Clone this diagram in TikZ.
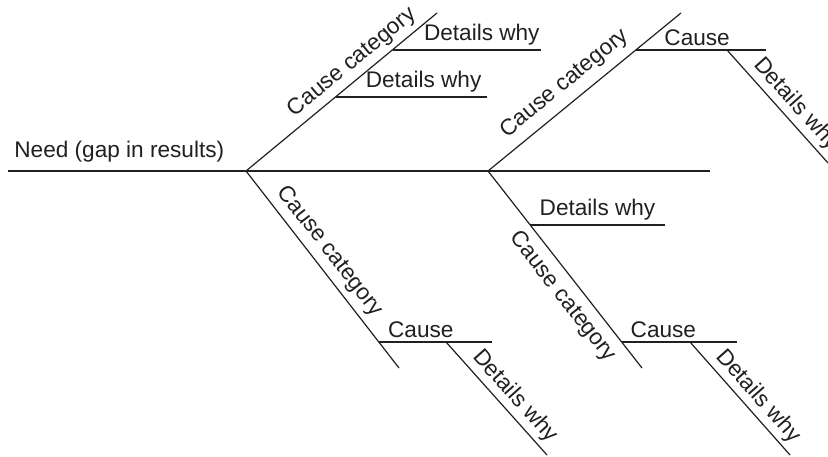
\documentclass[tikz,border=0pt]{standalone}
\usepackage{fontspec}
\setmainfont{Liberation Sans}
\usepackage{xcolor}
\definecolor{ink}{HTML}{231F20}
\tikzstyle{bone}=[line width=.6pt,draw=ink]
\tikzstyle{lbl}=[font=\fontsize{11.3}{13}\selectfont,text=ink,inner sep=2pt]
\tikzstyle{up}=[lbl,sloped,above]
\tikzstyle{dn}=[lbl,sloped,below]

\begin{document}
\begin{tikzpicture}[x=.5pt,y=-.5pt]
	\useasboundingbox (0,0) rectangle (828,456);
	\clip (0,0) rectangle (828,456);
	% spine
	\coordinate (tail) at (8,171);
	\coordinate (head) at (710,171);
	\coordinate (j1) at (246,171);
	\coordinate (j2) at (488,171);
	\draw[bone] (tail) -- (head);
	\node[lbl,anchor=base west] (need) at (10,157) {Need (gap in results)};
	% cause categories
	\coordinate (u1) at (437,13);
	\coordinate (d1) at (399,368);
	\coordinate (u2) at (681,13);
	\coordinate (d2) at (642,368);
	\draw[bone] (j1) -- node[up,pos=.61,inner sep=2.5pt] (cat1) {Cause category} (u1);
	\draw[bone] (j1) -- node[up,pos=.46,inner sep=3pt] (cat2) {Cause category} (d1);
	\draw[bone] (j2) -- node[up,pos=.46,inner sep=4pt] (cat3) {Cause category} (u2);
	\draw[bone] (j2) -- node[dn,pos=.58,inner sep=4pt] (cat4) {Cause category} (d2);
	% causes and details
	\coordinate (a1) at (393,50);  \coordinate (a1e) at (541,50);
	\coordinate (a2) at (336,97);  \coordinate (a2e) at (487,97);
	\draw[bone] (a1) -- node[up,pos=.6]  (why1) {Details why} (a1e);
	\draw[bone] (a2) -- node[up,pos=.58] (why2) {Details why} (a2e);
	\coordinate (b1) at (636,50);  \coordinate (b1e) at (766,50);
	\coordinate (b2) at (727,50);  \coordinate (b2e) at (828,163);
	\draw[bone] (b1) -- node[up,pos=.47] (cause1) {Cause} (b1e);
	\draw[bone] (b2) -- node[up,pos=.57] (why3) {Details why} (b2e);
	\coordinate (c1) at (379,342); \coordinate (c1e) at (492,342);
	\coordinate (c2) at (446,342); \coordinate (c2e) at (547,455);
	\draw[bone] (c1) -- node[up,pos=.37] (cause2) {Cause} (c1e);
	\draw[bone] (c2) -- node[up,pos=.57] (why4) {Details why} (c2e);
	\coordinate (e1) at (530,225); \coordinate (e1e) at (665,225);
	\coordinate (e2) at (622,342); \coordinate (e2e) at (737,342);
	\coordinate (e3) at (690,342); \coordinate (e3e) at (790,455);
	\draw[bone] (e1) -- node[up,pos=.5]  (why5) {Details why} (e1e);
	\draw[bone] (e2) -- node[up,pos=.36] (cause3) {Cause} (e2e);
	\draw[bone] (e3) -- node[up,pos=.57] (why6) {Details why} (e3e);
\end{tikzpicture}
\end{document}
